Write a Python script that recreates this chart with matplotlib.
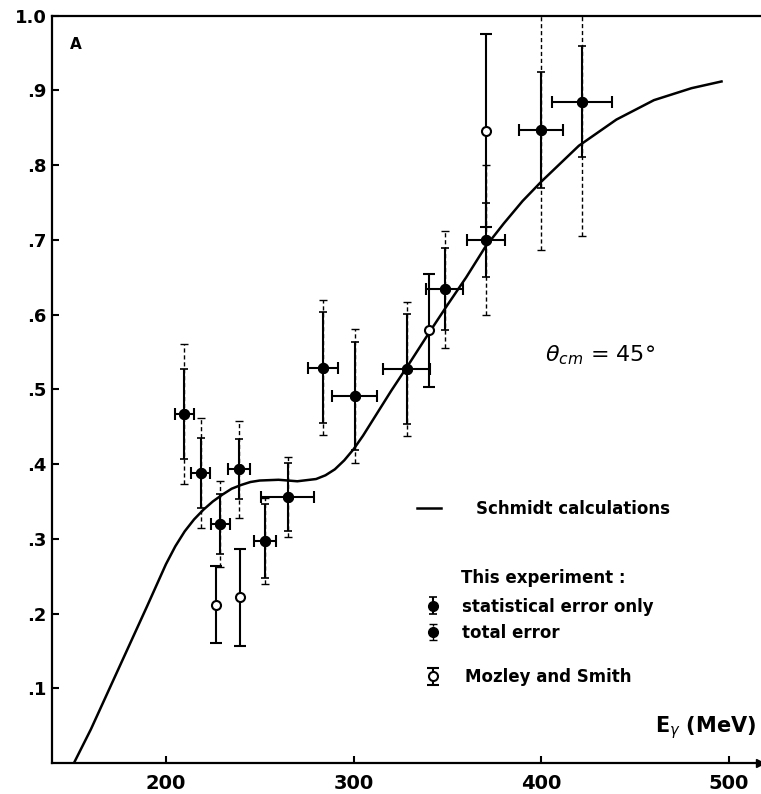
import numpy as np
import matplotlib.pyplot as plt
from matplotlib.lines import Line2D

# Schmidt calculation curve
curve_E = [151, 160, 170, 180, 190, 200, 205, 210, 215, 220, 225, 230, 235, 240, 245,
           250, 260, 270, 280, 285, 290, 295, 300, 305, 310, 320, 330, 340, 350, 360,
           370, 380, 390, 400, 420, 440, 460, 480, 496]
curve_y = [0.0, 0.045, 0.10, 0.155, 0.21, 0.266, 0.290, 0.310, 0.326, 0.339, 0.350,
           0.359, 0.367, 0.372, 0.376, 0.378, 0.379, 0.377, 0.380, 0.385, 0.393,
           0.405, 0.420, 0.438, 0.458, 0.498, 0.536, 0.575, 0.613, 0.650, 0.690,
           0.722, 0.752, 0.778, 0.826, 0.861, 0.887, 0.903, 0.912]

# this experiment
exp_E = [209.8, 218.6, 228.9, 238.9, 252.7, 264.8, 283.6, 300.7, 328.4, 348.5, 370.5, 399.8, 421.8]
exp_y = [0.467, 0.388, 0.320, 0.393, 0.297, 0.356, 0.529, 0.491, 0.527, 0.634, 0.700, 0.847, 0.885]
exp_stat = [0.060, 0.047, 0.040, 0.040, 0.050, 0.046, 0.074, 0.072, 0.074, 0.055, 0.050, 0.078, 0.074]
exp_tot = [0.094, 0.074, 0.058, 0.065, 0.058, 0.054, 0.090, 0.090, 0.090, 0.078, 0.100, 0.160, 0.180]
exp_dE = [5, 5, 5, 6, 6, 14, 8, 12, 12.5, 10, 10, 11.5, 16]

# Mozley and Smith
moz_E = [226.8, 239.6, 340.3, 370.5]
moz_y = [0.212, 0.222, 0.579, 0.846]
moz_err = [0.051, 0.065, 0.076, 0.129]

xticks = [200, 300, 400, 500]
yticks = [0.1, 0.2, 0.3, 0.4, 0.5, 0.6, 0.7, 0.8, 0.9, 1.0]
ylabels = [".1", ".2", ".3", ".4", ".5", ".6", ".7", ".8", ".9", "1.0"]

plt.rcParams['font.family'] = ['DejaVu Sans']

fig = plt.figure(figsize=(7.61, 7.94), dpi=100)
ax = fig.add_axes([52 / 761, 1 - 763 / 794, (760 - 52) / 761, (763 - 15.7) / 794])
ax.set_xlim(139.3, 516.5)
ax.set_ylim(0, 1.0)

line, = ax.plot(curve_E, curve_y, color='k', lw=1.8, zorder=2)

# total error (dashed)
tot = ax.errorbar(exp_E, exp_y, yerr=exp_tot, fmt='o', color='k', ms=7,
                  elinewidth=1.0, capsize=3, capthick=1.0, zorder=3)
tot[2][0].set_linestyle((0, (3, 2)))
# statistical error (solid)
stat = ax.errorbar(exp_E, exp_y, yerr=exp_stat, fmt='o', color='k', ms=7,
                   elinewidth=1.5, capsize=3, capthick=1.2, zorder=4)
ax.errorbar(exp_E, exp_y, xerr=exp_dE, fmt='none', ecolor='k',
            elinewidth=1.5, capsize=4, capthick=1.5, zorder=4)
moz = ax.errorbar(moz_E, moz_y, yerr=moz_err, fmt='o', color='k', mfc='white',
                  mew=1.5, ms=6.5, elinewidth=1.5, capsize=4, capthick=1.5, zorder=4)

# axes styling
ax.spines['right'].set_visible(False)
for s in ['left', 'top', 'bottom']:
    ax.spines[s].set_linewidth(1.6)
ax.set_xticks(xticks)
ax.set_xticklabels([str(t) for t in xticks], fontsize=14, fontweight='bold')
ax.set_yticks(yticks)
ax.set_yticklabels(ylabels, fontsize=13, fontweight='bold')
ax.tick_params(axis='x', direction='in', length=5, width=1.5, pad=8)
ax.tick_params(axis='y', direction='in', length=5, width=1.5, pad=4)
ax.plot([1], [0], marker='>', color='k', ms=6, transform=ax.transAxes, clip_on=False)

ax.text(0.025, 0.962, "A", transform=ax.transAxes, fontsize=11, fontweight='bold',
        va='center', ha='left')
ax.text(0.696, 0.546, r"$\theta_{cm}$ = 45°", transform=ax.transAxes, fontsize=16,
        va='center', ha='left')
ax.text(0.995, 0.03, r"E$_\gamma$ (MeV)", transform=ax.transAxes, fontsize=15,
        fontweight='bold', va='bottom', ha='right')

prop = {'size': 12, 'weight': 'bold'}
leg1 = ax.legend([line], ["Schmidt calculations"], loc='center left',
                 bbox_to_anchor=(0.5155, 0.340), frameon=False, prop=prop,
                 handlelength=1.45, handletextpad=2.1, borderpad=0, borderaxespad=0)
ax.add_artist(leg1)
ax.text(0.578, 0.248, "This experiment :", transform=ax.transAxes,
        fontsize=12, fontweight='bold', va='center', ha='left')
leg2 = ax.legend([stat, tot], ["statistical error only", "total error"], loc='center left',
                 bbox_to_anchor=(0.527, 0.1917), frameon=False, prop=prop,
                 handlelength=1.0, handletextpad=1.2, borderpad=0, borderaxespad=0,
                 labelspacing=0.5)
ax.add_artist(leg2)
ax.legend([moz], ["Mozley and Smith"], loc='center left',
          bbox_to_anchor=(0.527, 0.115), frameon=False, prop=prop,
          handlelength=1.0, handletextpad=1.4, borderpad=0, borderaxespad=0)

fig.savefig("out.png", dpi=100)
